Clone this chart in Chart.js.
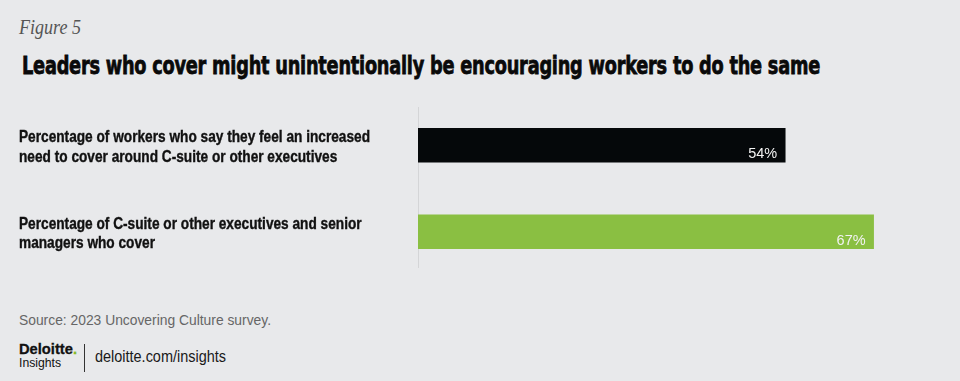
<!DOCTYPE html>
<html>
<head>
<meta charset="utf-8">
<script src="https://cdn.jsdelivr.net/npm/chart.js@4.4.1/dist/chart.umd.min.js"></script>
<style>
  html, body { margin:0; padding:0; }
  body { width:960px; height:381px; background:#e8e9eb; position:relative; overflow:hidden; font-family:"Liberation Sans", Arial, sans-serif; }
  .fit { position:absolute; white-space:nowrap; transform-origin:0 0; }
  #fig { left:19px; top:15px; font-family:"Liberation Serif", "DejaVu Serif", serif; font-style:italic; font-size:21px; color:#555; }
  #title { left:22px; top:52px; font-family:"DejaVu Sans", sans-serif; font-weight:900; font-size:24px; color:#0a0a0a; letter-spacing:-0.3px; -webkit-text-stroke:0.8px #0a0a0a; }
  #source { left:19px; top:311px; font-size:15px; color:#666; }
  #brand1 { left:19px; top:340px; font-weight:bold; font-size:15px; color:#111; -webkit-text-stroke:0.3px #111; }
  #brand1 .dot { color:#86bc25; -webkit-text-stroke:0.3px #86bc25; }
  #brand2 { left:19px; top:355px; font-size:13px; color:#111; }
  #sep { position:absolute; left:84px; top:344px; width:1px; height:28px; background:#333; }
  #url { left:95px; top:347px; font-size:17px; color:#1a1a1a; }
  #chartWrap { position:absolute; left:0; top:95px; width:960px; height:185px; }
</style>
</head>
<body>
<div id="fig" class="fit" data-w="62">Figure 5</div>
<div id="title" class="fit" data-w="798">Leaders who cover might unintentionally be encouraging workers to do the same</div>
<div id="chartWrap"><canvas id="c" width="960" height="185"></canvas></div>
<div id="source" class="fit" data-w="252">Source: 2023 Uncovering Culture survey.</div>
<div id="brand1" class="fit" data-w="58">Deloitte<span class="dot">.</span></div>
<div id="brand2" class="fit" data-w="42">Insights</div>
<div id="sep"></div>
<div id="url" class="fit" data-w="131">deloitte.com/insights</div>
<script>
// ---- data ----
const categories = [
  ["Percentage of workers who say they feel an increased", "need to cover around C-suite or other executives"],
  ["Percentage of C-suite or other executives and senior", "managers who cover"]
];
const values = [54, 67];
const valueLabels = ["54%", "67%"];
const barColors = ["#05080a", "#8abf42"];

// fit text widths
document.querySelectorAll('.fit').forEach(el => {
  const target = parseFloat(el.dataset.w);
  const w = el.getBoundingClientRect().width;
  if (w > 0) el.style.transform = 'scaleX(' + (target / w) + ')';
});

const labelFont = 'bold 17px "Liberation Sans", Arial, sans-serif';

const customDraw = {
  id: 'customDraw',
  beforeDatasetsDraw(chart) {
    const ctx = chart.ctx, a = chart.chartArea;
    ctx.save();
    ctx.strokeStyle = '#d4d5d7';
    ctx.lineWidth = 1;
    ctx.beginPath();
    ctx.moveTo(a.left + 0.5, a.top + 5);
    ctx.lineTo(a.left + 0.5, a.bottom - 7);
    ctx.stroke();
    ctx.restore();
  },
  afterDatasetsDraw(chart) {
    const ctx = chart.ctx;
    const meta = chart.getDatasetMeta(0);
    const yScale = chart.scales.y;
    // category labels (condensed)
    ctx.save();
    ctx.font = labelFont;
    ctx.fillStyle = '#111';
    ctx.strokeStyle = '#111';
    ctx.lineWidth = 0.4;
    ctx.textAlign = 'left';
    ctx.textBaseline = 'alphabetic';
    const sx = 351 / ctx.measureText(categories[0][0]).width;
    const lh = 19.5;
    categories.forEach((lines, i) => {
      const yc = yScale.getPixelForTick(i);
      lines.forEach((ln, j) => {
        const yb = yc - (lines.length - 1) * lh / 2 + j * lh + 6.5;
        ctx.save();
        ctx.translate(19, yb);
        ctx.scale(sx, 1);
        ctx.fillText(ln, 0, 0);
        ctx.strokeText(ln, 0, 0);
        ctx.restore();
      });
    });
    ctx.restore();
    // value labels
    ctx.save();
    ctx.font = '15px "Liberation Sans", sans-serif';
    ctx.fillStyle = '#f2f2f2';
    ctx.textAlign = 'right';
    ctx.textBaseline = 'alphabetic';
    meta.data.forEach((el, i) => {
      const txt = valueLabels[i];
      const bottom = el.y + el.height / 2;
      const tw = ctx.measureText(txt).width;
      ctx.save();
      ctx.translate(el.x - 8, bottom - 4);
      ctx.scale(29 / tw, 1);
      ctx.fillText(txt, 0, 0);
      ctx.restore();
    });
    ctx.restore();
  }
};

new Chart(document.getElementById('c'), {
  type: 'bar',
  data: {
    labels: categories,
    datasets: [{
      data: values,
      backgroundColor: barColors,
      barThickness: 34,
      borderWidth: 0
    }]
  },
  options: {
    indexAxis: 'y',
    responsive: false,
    animation: false,
    layout: { padding: { left: 19, right: 66, top: 7, bottom: 5 } },
    plugins: { legend: { display: false }, tooltip: { enabled: false } },
    scales: {
      x: { display: false, min: 0, max: 70 },
      y: {
        grid: { display: false, drawTicks: false },
        border: { display: false },
        ticks: { display: false },
        afterFit(scale) { scale.width = 399; }
      }
    }
  },
  plugins: [customDraw]
});
</script>
</body>
</html>
